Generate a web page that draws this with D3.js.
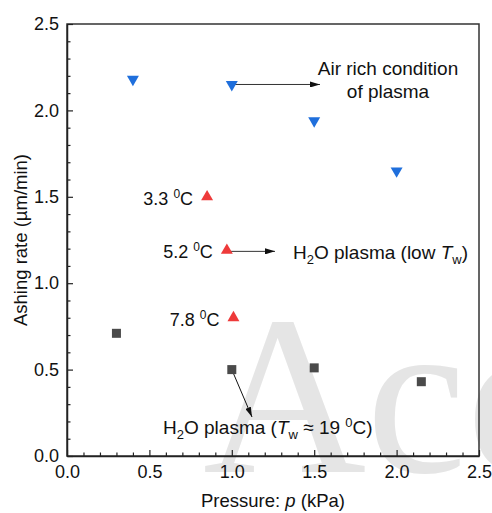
<!DOCTYPE html>
<html>
<head>
<meta charset="utf-8">
<script src="https://cdn.jsdelivr.net/npm/d3@7/dist/d3.min.js"></script>
<style>
  html, body { margin: 0; padding: 0; background: #fff; }
  svg { display: block; font-family: "Liberation Sans", Arial, sans-serif; }
</style>
</head>
<body>
<svg id="chart" width="492" height="513"></svg>
<script>
// Ashing rate versus pressure for three plasma conditions
const airPressure = [0.4, 1.0, 1.5, 2.0];
const airRate = [2.18, 2.15, 1.94, 1.65];

const lowTwPressure = [0.85, 0.97, 1.01];
const lowTwRate = [1.50, 1.19, 0.80];
const lowTwLabels = ["3.3", "5.2", "7.8"];

const h2oPressure = [0.3, 1.0, 1.5, 2.15];
const h2oRate = [0.71, 0.50, 0.51, 0.43];

const xTicks = [0.0, 0.5, 1.0, 1.5, 2.0, 2.5];
const yTicks = [0.0, 0.5, 1.0, 1.5, 2.0, 2.5];

const svg = d3.select("#chart");
const margin = { left: 67, right: 13, top: 24, bottom: 57 };
const W = 492, H = 513;
const x = d3.scaleLinear().domain([0, 2.5]).range([margin.left, W - margin.right]);
const y = d3.scaleLinear().domain([0, 2.5]).range([H - margin.bottom, margin.top]);

// faint watermark behind the plot
svg.append("text")
  .attr("x", 203).attr("y", 472)
  .attr("font-family", "'Liberation Serif', 'Times New Roman', serif")
  .attr("font-size", 226)
  .attr("fill", "#e5e5e5")
  .text("Acc");

// frame
svg.append("rect")
  .attr("x", x(0)).attr("y", y(2.5))
  .attr("width", x(2.5) - x(0)).attr("height", y(0) - y(2.5))
  .attr("fill", "none").attr("stroke", "#333").attr("stroke-width", 1.5);

// axes with inward ticks
const xMinor = d3.range(0, 2.5001, 0.1).filter(v => Math.abs(v * 2 - Math.round(v * 2)) > 1e-6);
const yMinor = xMinor.slice();

svg.append("g").attr("transform", `translate(0,${y(0)})`)
  .call(d3.axisBottom(x).tickValues(xTicks).tickFormat(d3.format(".1f")).tickSizeInner(-6).tickSizeOuter(0).tickPadding(9));
svg.append("g").attr("transform", `translate(${x(0)},0)`)
  .call(d3.axisLeft(y).tickValues(yTicks).tickFormat(d3.format(".1f")).tickSizeInner(-6).tickSizeOuter(0).tickPadding(8));
svg.append("g").attr("transform", `translate(0,${y(0)})`)
  .call(d3.axisBottom(x).tickValues(xMinor).tickFormat("").tickSizeInner(-3.5).tickSizeOuter(0))
  .select(".domain").remove();
svg.append("g").attr("transform", `translate(${x(0)},0)`)
  .call(d3.axisLeft(y).tickValues(yMinor).tickFormat("").tickSizeInner(-3.5).tickSizeOuter(0))
  .select(".domain").remove();

svg.selectAll(".domain").attr("stroke", "#222").attr("stroke-width", 1.5);
svg.selectAll(".tick line").attr("stroke", "#222").attr("stroke-width", 1.2);
svg.selectAll(".tick text").attr("font-size", 18).attr("fill", "#111")
  .attr("font-family", "'Liberation Sans', Arial, sans-serif");

// axis titles
const xt = svg.append("text").attr("x", (x(0) + x(2.5)) / 2).attr("y", 507)
  .attr("text-anchor", "middle").attr("font-size", 18.5).attr("fill", "#111");
xt.append("tspan").text("Pressure: ");
xt.append("tspan").attr("font-style", "italic").text("p");
xt.append("tspan").text(" (kPa)");

svg.append("text")
  .attr("transform", `translate(27,${(y(0) + y(2.5)) / 2}) rotate(-90)`)
  .attr("text-anchor", "middle").attr("font-size", 18.5).attr("fill", "#111")
  .text("Ashing rate (\u00b5m/min)");

// arrow heads
const defs = svg.append("defs");
defs.append("marker").attr("id", "arr").attr("viewBox", "0 0 10 6")
  .attr("refX", 10).attr("refY", 3).attr("markerWidth", 10).attr("markerHeight", 6)
  .attr("markerUnits", "userSpaceOnUse").attr("orient", "auto")
  .append("path").attr("d", "M0,0 L10,3 L0,6 Z").attr("fill", "#111");

// annotation arrows
svg.append("line")
  .attr("x1", x(airPressure[1])).attr("y1", y(airRate[1]))
  .attr("x2", 320).attr("y2", y(airRate[1]))
  .attr("stroke", "#333").attr("stroke-width", 1).attr("marker-end", "url(#arr)");
svg.append("line")
  .attr("x1", x(lowTwPressure[1])).attr("y1", y(lowTwRate[1]) + 1)
  .attr("x2", 275).attr("y2", y(lowTwRate[1]) + 1)
  .attr("stroke", "#333").attr("stroke-width", 1).attr("marker-end", "url(#arr)");
svg.append("line")
  .attr("x1", x(h2oPressure[1])).attr("y1", y(h2oRate[1]))
  .attr("x2", 252).attr("y2", 417)
  .attr("stroke", "#111").attr("stroke-width", 1).attr("marker-end", "url(#arr)");

// markers
const tri = d3.symbol().type(d3.symbolTriangle).size(62);
svg.append("g").selectAll("path").data(airPressure).join("path")
  .attr("d", tri)
  .attr("transform", (d, i) => `translate(${x(d)},${y(airRate[i])}) rotate(180)`)
  .attr("fill", "#1f6fdc");
svg.append("g").selectAll("path").data(lowTwPressure).join("path")
  .attr("d", tri)
  .attr("transform", (d, i) => `translate(${x(d)},${y(lowTwRate[i])})`)
  .attr("fill", "#ee3a3a");
svg.append("g").selectAll("rect").data(h2oPressure).join("rect")
  .attr("x", d => x(d) - 4.5).attr("y", (d, i) => y(h2oRate[i]) - 4.5)
  .attr("width", 9).attr("height", 9)
  .attr("fill", "#4a4a4a");

// temperature labels beside the low-Tw points
const labelGap = 14;
lowTwLabels.forEach((t, i) => {
  const tx = svg.append("text")
    .attr("x", x(lowTwPressure[i]) - labelGap).attr("y", y(lowTwRate[i]) + 8)
    .attr("text-anchor", "end").attr("font-size", 18).attr("fill", "#111");
  tx.append("tspan").text(t + " ");
  tx.append("tspan").attr("dy", -7).attr("font-size", 12).text("0");
  tx.append("tspan").attr("dy", 7).text("C");
});

// condition labels
svg.append("text").attr("x", 388).attr("y", 75).attr("text-anchor", "middle")
  .attr("font-size", 19).attr("fill", "#111").text("Air rich condition");
svg.append("text").attr("x", 388).attr("y", 98).attr("text-anchor", "middle")
  .attr("font-size", 19).attr("fill", "#111").text("of plasma");

const t1 = svg.append("text").attr("x", 293).attr("y", 259)
  .attr("font-size", 19).attr("fill", "#111");
t1.append("tspan").text("H");
t1.append("tspan").attr("dy", 5).attr("font-size", 13).text("2");
t1.append("tspan").attr("dy", -5).text("O plasma (low ");
t1.append("tspan").attr("font-style", "italic").text("T");
t1.append("tspan").attr("dy", 5).attr("font-size", 13).text("w");
t1.append("tspan").attr("dy", -5).text(")");

const t2 = svg.append("text").attr("x", 163).attr("y", 434)
  .attr("font-size", 19).attr("fill", "#111");
t2.append("tspan").text("H");
t2.append("tspan").attr("dy", 5).attr("font-size", 13).text("2");
t2.append("tspan").attr("dy", -5).text("O plasma (");
t2.append("tspan").attr("font-style", "italic").text("T");
t2.append("tspan").attr("dy", 5).attr("font-size", 13).text("w");
t2.append("tspan").attr("dy", -5).text(" \u2248 19 ");
t2.append("tspan").attr("dy", -7).attr("font-size", 13).text("0");
t2.append("tspan").attr("dy", 7).text("C)");
</script>
</body>
</html>
